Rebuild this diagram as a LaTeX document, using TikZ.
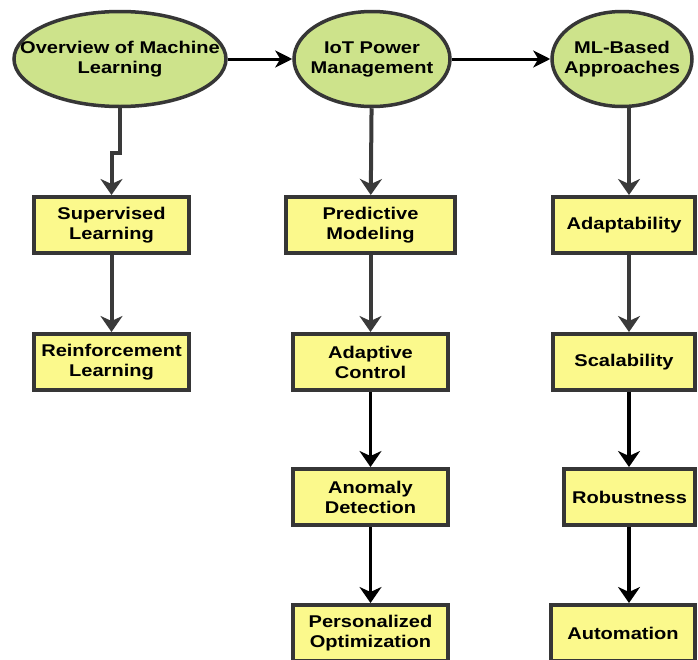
\documentclass[tikz,border=0pt]{standalone}
\usepackage{fontspec}
\setmainfont{Liberation Sans}[FakeStretch=1.18]
\usetikzlibrary{shapes.geometric,arrows.meta}
\definecolor{ellfill}{HTML}{CDE38B}
\definecolor{boxfill}{HTML}{FBF98C}
\definecolor{edgec}{HTML}{363636}
\definecolor{arrg}{HTML}{3A3A3A}
\begin{document}
\begin{tikzpicture}[x=1pt,y=-1pt,
  ell/.style={ellipse,draw=edgec,line width=3.5pt,fill=ellfill,inner sep=0pt},
  txt/.style={align=center,font=\bfseries\fontsize{17}{20}\selectfont,inner sep=0pt},
  box/.style={rectangle,draw=edgec,line width=4pt,fill=boxfill,minimum height=56pt,
    align=center,font=\bfseries\fontsize{17}{20}\selectfont,inner sep=0pt},
  garrow/.style={draw=arrg,line width=4pt,-{Stealth[length=16pt,width=22pt,inset=5pt]}},
  barrow/.style={draw=black,line width=3.5pt,-{Stealth[length=16pt,width=22pt,inset=5pt]}},
  harrow/.style={draw=black,line width=3pt,-{Stealth[length=17pt,width=17pt,inset=5pt]}}]
\useasboundingbox (0,0) rectangle (698,659);
\fill[white] (0,0) rectangle (698,659);

% ellipses
\node[ell,minimum width=212pt,minimum height=95pt] (ov) at (120,59) {};
\node[txt] (ovt) at (ov) {Overview of Machine\\Learning};
\node[ell,minimum width=156pt,minimum height=95pt] (iot) at (372,59) {};
\node[txt] (iott) at (iot) {IoT Power\\Management};
\node[ell,minimum width=140pt,minimum height=95pt] (ml) at (622,59) {};
\node[txt] (mlt) at (ml) {ML-Based\\Approaches};

% column 1
\node[box,minimum width=155pt] (sup) at (111.5,225) {Supervised\\Learning};
\node[box,minimum width=155pt] (rei) at (111.5,362) {Reinforcement\\Learning};
% column 2
\node[box,minimum width=169pt] (pred) at (370.5,225) {Predictive\\Modeling};
\node[box,minimum width=155pt] (adc) at (370.5,362) {Adaptive\\Control};
\node[box,minimum width=155pt] (ano) at (370.5,497) {Anomaly\\Detection};
\node[box,minimum width=155pt] (per) at (370.5,633) {Personalized\\Optimization};
% column 3
\node[box,minimum width=142pt] (adp) at (624,225) {Adaptability};
\node[box,minimum width=142pt] (sca) at (624,362) {Scalability};
\node[box,minimum width=131pt] (rob) at (629.5,497) {Robustness};
\node[box,minimum width=144pt] (aut) at (623,633) {Automation};

\coordinate (c3) at (629,0);

% horizontal arrows
\draw[harrow] (ov.east) -- (iot.west);
\draw[harrow] (iot.east) -- (ml.west);

% column 1
\draw[garrow] (ov.south) -- ++(0,45) -| (sup.north);
\draw[garrow] (sup) -- (rei);
% column 2
\draw[garrow] (iot) -- (pred);
\draw[garrow] (pred) -- (adc);
\draw[barrow] (adc) -- (ano);
\draw[barrow] (ano) -- (per);
% column 3
\draw[garrow] (ml.south -| c3) -- (adp.north -| c3);
\draw[garrow] (adp.south -| c3) -- (sca.north -| c3);
\draw[barrow] (sca.south -| c3) -- (rob.north -| c3);
\draw[barrow] (rob.south -| c3) -- (aut.north -| c3);
\end{tikzpicture}
\end{document}
